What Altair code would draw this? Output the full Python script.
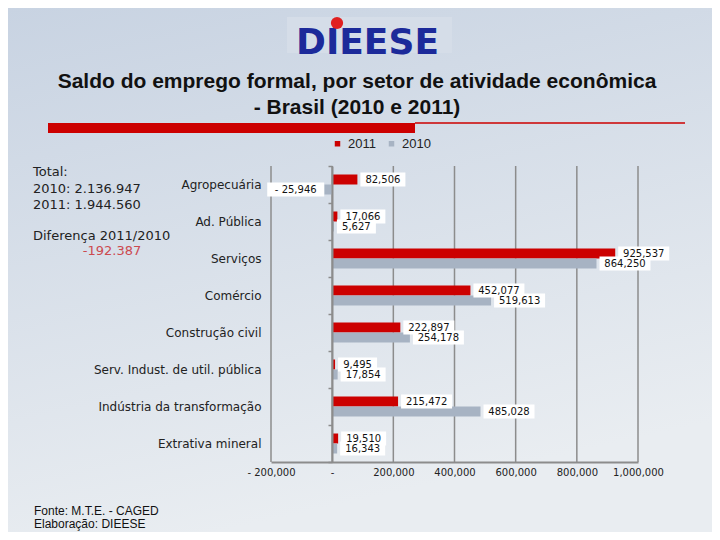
import altair as alt
import pandas as pd

# ---------------- data ----------------
categories = [
    "Agropecuária",
    "Ad. Pública",
    "Serviços",
    "Comércio",
    "Construção civil",
    "Serv. Indust. de util. pública",
    "Indústria da transformação",
    "Extrativa mineral",
]
series = ["2011", "2010"]
values_2011 = [82506, 17066, 925537, 452077, 222897, 9495, 215472, 19510]
values_2010 = [-25946, 5627, 864250, 519613, 254178, 17854, 485028, 16343]
x_ticks = [-200000, 0, 200000, 400000, 600000, 800000, 1000000]

title_lines = ["Saldo do emprego formal, por setor de atividade econômica",
               "- Brasil (2010 e 2011)"]
summary_lines = ["Total:", "2010: 2.136.947", "2011: 1.944.560", "Diferença 2011/2010"]
difference_text = "-192.387"
source_lines = ["Fonte: M.T.E. - CAGED", "Elaboração: DIEESE"]
logo_text = "DIEESE"

rows = []
for c, a, b in zip(categories, values_2011, values_2010):
    rows.append({"setor": c, "ano": series[0], "saldo": a})
    rows.append({"setor": c, "ano": series[1], "saldo": b})
df = pd.DataFrame(rows)
ticks_df = pd.DataFrame({"tick": x_ticks})

# ---------------- layout ----------------
W, H = 367, 296
PAD = {"left": 263, "top": 158, "right": 74, "bottom": 70}
K = 1200000 / W  # data units per pixel

RED = "#cc0000"
GRAY = "#a7b3c3"
AXC = "#8c8c8c"

x_scale = alt.Scale(domain=[-200000, 1000000], nice=False, zero=False)
x_axis = alt.Axis(
    values=x_ticks,
    labelExpr="datum.value == 0 ? '-' : (datum.value < 0 ? '- ' + format(-datum.value, ',') : format(datum.value, ','))",
    grid=False, zindex=1, labelOverlap=False, labelFlush=False,
    domainColor=AXC, domainWidth=2, ticks=False,
    labelPadding=5, labelFont="DejaVu Sans", labelFontSize=10, labelColor="#222",
    title=None,
)
y_enc = alt.Y(
    "setor:N", sort=categories,
    scale=alt.Scale(paddingInner=0, paddingOuter=0),
    axis=alt.Axis(
        title=None, offset=-61, tickBand="extent", tickSize=4, tickColor=AXC,
        tickWidth=1.5, domainColor=AXC, domainWidth=2, labelPadding=67,
        labelFont="DejaVu Sans", labelFontSize=12, labelColor="#222",
        labelLimit=300, grid=False, zindex=1, labelOverlap=False,
    ),
)
yoff_enc = alt.YOffset("ano:N", sort=series,
                       scale=alt.Scale(paddingInner=0, paddingOuter=0.85))

one = pd.DataFrame({"a": [0]})

# background
bg = alt.Chart(one).mark_rect(
    fill=alt.Gradient(
        gradient="linear",
        stops=[alt.GradientStop(color="#c8d3e2", offset=0),
               alt.GradientStop(color="#e9edf1", offset=1)],
        x1=0, y1=0, x2=0.3, y2=1,
    )
).encode(x=alt.value(-PAD["left"]), x2=alt.value(W + PAD["right"]),
         y=alt.value(-PAD["top"]), y2=alt.value(H + PAD["bottom"]))

logo_bg = alt.Chart(one).mark_rect(color="#d5dde8").encode(
    x=alt.value(16), x2=alt.value(181), y=alt.value(-149), y2=alt.value(-113))
logo = alt.Chart(one).mark_text(
    text=logo_text, font="DejaVu Sans", fontWeight="bold", fontSize=36,
    color="#1c2a9a", align="left", baseline="alphabetic",
).encode(x=alt.value(25), y=alt.value(-112))
logo_dot = alt.Chart(one).mark_point(
    shape="circle", filled=True, size=150, color="#e02020", opacity=1
).encode(x=alt.value(66), y=alt.value(-143))

title1 = alt.Chart(one).mark_text(
    text=title_lines[0], font="Liberation Sans", fontWeight="bold", fontSize=21,
    color="#111", align="center", baseline="middle",
).encode(x=alt.value(86), y=alt.value(-84))
title2 = alt.Chart(one).mark_text(
    text=title_lines[1], font="Liberation Sans", fontWeight="bold", fontSize=21,
    color="#111", align="center", baseline="middle",
).encode(x=alt.value(86), y=alt.value(-58))

red_band = alt.Chart(one).mark_rect(color=RED).encode(
    x=alt.value(-223), x2=alt.value(144), y=alt.value(-43), y2=alt.value(-33))
red_line = alt.Chart(one).mark_rule(color=RED, strokeWidth=1.5).encode(
    x=alt.value(144), x2=alt.value(414), y=alt.value(-43))

summary = []
for txt, yy in zip(summary_lines, [6, 23, 39, 70]):
    summary.append(alt.Chart(one).mark_text(
        text=txt, font="DejaVu Sans", fontSize=13, color="#222",
        align="left", baseline="middle",
    ).encode(x=alt.value(-238), y=alt.value(yy)))
diff = alt.Chart(one).mark_text(
    text=difference_text, font="DejaVu Sans", fontSize=13, color="#cc4a4f",
    align="center", baseline="middle",
).encode(x=alt.value(-159), y=alt.value(85))

footer = []
for txt, yy in zip(source_lines, [345, 358]):
    footer.append(alt.Chart(one).mark_text(
        text=txt, font="Liberation Sans", fontSize=12, color="#111",
        align="left", baseline="middle",
    ).encode(x=alt.value(-237), y=alt.value(yy)))

# gridlines (behind bars, above background)
grid = alt.Chart(ticks_df).mark_rule(color=AXC, strokeWidth=1.5).encode(
    x=alt.X("tick:Q", scale=x_scale, axis=x_axis),
)

# bars
bars = alt.Chart(df).mark_bar().encode(
    x=alt.X("saldo:Q", scale=x_scale, axis=x_axis),
    y=y_enc,
    yOffset=yoff_enc,
    color=alt.Color(
        "ano:N", sort=series,
        scale=alt.Scale(domain=series, range=[RED, GRAY]),
        legend=alt.Legend(
            orient="none", legendX=60, legendY=-29, direction="horizontal",
            title=None, symbolType="square", symbolSize=30, symbolStrokeWidth=0,
            labelFont="Liberation Sans", labelFontSize=13, labelColor="#222",
            columnPadding=9, labelOffset=4, padding=0,
        ),
    ),
)

lab_base = alt.Chart(df).transform_calculate(
    lab="datum.saldo < 0 ? '- ' + format(-datum.saldo, ',') : format(datum.saldo, ',')"
).transform_calculate(
    w="length(datum.lab) * 6 + 9"
).transform_calculate(
    bx1=f"datum.saldo < 0 ? datum.saldo - datum.w * {K} : datum.saldo + 3 * {K}"
).transform_calculate(
    bx2=f"datum.bx1 + datum.w * {K}"
).transform_calculate(
    tx=f"datum.bx1 + datum.w * {K} / 2"
)

boxes = lab_base.mark_bar(color="white", height=14).encode(
    x=alt.X("bx1:Q", scale=x_scale, axis=x_axis),
    x2="bx2:Q",
    y=y_enc,
    yOffset=yoff_enc,
)
texts = lab_base.mark_text(
    font="DejaVu Sans", fontSize=10, color="#111", align="center", baseline="middle"
).encode(
    x=alt.X("tx:Q", scale=x_scale, axis=x_axis),
    y=y_enc,
    yOffset=yoff_enc,
    text="lab:N",
)

chart = alt.layer(
    bg, logo_bg, logo, logo_dot, title1, title2, red_band, red_line,
    *summary, diff, *footer, grid, bars, boxes, texts,
).properties(
    width=W, height=H, padding=PAD,
    autosize=alt.AutoSizeParams(type="none"),
    background="#dfe5ec",
).configure_view(stroke=None)

chart.save("out.html", embed_options={"renderer": "svg", "actions": False})
